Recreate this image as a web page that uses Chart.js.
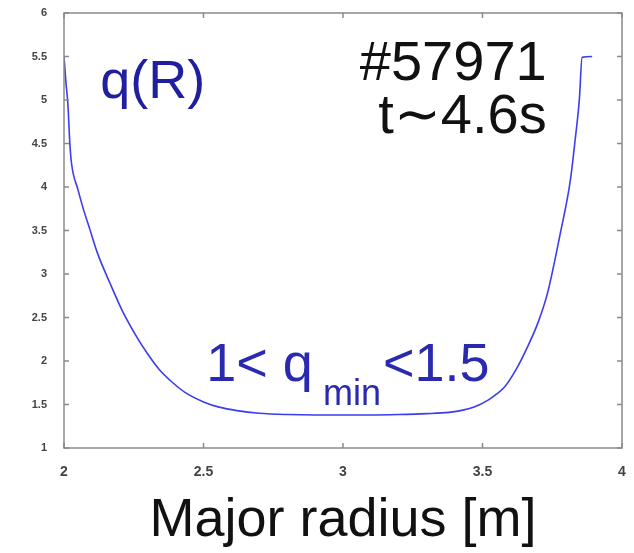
<!DOCTYPE html>
<html>
<head>
<meta charset="utf-8">
<script src="https://cdn.jsdelivr.net/npm/chart.js@4.4.1/dist/chart.umd.min.js"></script>
<style>
  html, body { margin: 0; padding: 0; background: #fff; }
  #wrap { width: 634px; height: 553px; }
</style>
</head>
<body>
<div id="wrap"><canvas id="c" width="634" height="553"></canvas></div>
<script>
// major radius R [m]
const radius = [2.0, 2.007, 2.014, 2.021, 2.027, 2.05, 2.07, 2.093, 2.12, 2.164, 2.21, 2.26, 2.3,
  2.342, 2.39, 2.438, 2.5, 2.556, 2.62, 2.7, 2.8, 2.9, 3.0, 3.1, 3.2, 3.3, 3.38, 3.43, 3.47, 3.52,
  3.55, 3.579, 3.62, 3.661, 3.7, 3.733, 3.779, 3.815, 3.832, 3.847, 3.857, 3.893];
// safety factor q(R)
const qValues = [5.5, 5.2, 4.95, 4.5, 4.27, 3.97, 3.74, 3.51, 3.24, 2.90, 2.57, 2.28, 2.08,
  1.90, 1.75, 1.63, 1.53, 1.47, 1.43, 1.40, 1.385, 1.38, 1.38, 1.38, 1.385, 1.395, 1.41, 1.435, 1.47, 1.55,
  1.62, 1.70, 1.90, 2.16, 2.45, 2.78, 3.47, 4.08, 4.54, 5.0, 5.49, 5.5];
const xTicks = [2, 2.5, 3, 3.5, 4];
const yTicks = [1, 1.5, 2, 2.5, 3, 3.5, 4, 4.5, 5, 5.5, 6];

const FONT = '"Liberation Sans", Arial, Helvetica, sans-serif';

// box, inward ticks and text annotations
const decor = {
  id: 'decor',
  afterDraw(chart) {
    const { ctx, chartArea: a, scales: { x, y } } = chart;
    ctx.save();
    ctx.strokeStyle = '#8a8a8a';
    ctx.lineWidth = 1.5;
    ctx.strokeRect(a.left, a.top, a.right - a.left, a.bottom - a.top);
    const len = 5;
    ctx.beginPath();
    xTicks.forEach(v => {
      const px = x.getPixelForValue(v);
      ctx.moveTo(px, a.bottom); ctx.lineTo(px, a.bottom - len);
      ctx.moveTo(px, a.top); ctx.lineTo(px, a.top + len);
    });
    yTicks.forEach(v => {
      const py = y.getPixelForValue(v);
      ctx.moveTo(a.left, py); ctx.lineTo(a.left + len, py);
      ctx.moveTo(a.right, py); ctx.lineTo(a.right - len, py);
    });
    ctx.stroke();

    // labels
    ctx.textBaseline = 'alphabetic';
    ctx.fillStyle = '#1f1fa0';
    ctx.textAlign = 'left';
    ctx.font = '54px ' + FONT;
    ctx.fillText('q(R)', x.getPixelForValue(2.13), y.getPixelForValue(5.02));

    ctx.fillStyle = '#111';
    ctx.textAlign = 'right';
    ctx.font = '56px ' + FONT;
    ctx.fillText('#57971', x.getPixelForValue(3.73), y.getPixelForValue(5.23));
    ctx.fillText('t\u223C4.6s', x.getPixelForValue(3.73), y.getPixelForValue(4.62));

    ctx.fillStyle = '#2a2ab0';
    ctx.textAlign = 'left';
    ctx.font = '54px ' + FONT;
    const bx = x.getPixelForValue(2.51), by = y.getPixelForValue(1.77);
    const main1 = '1< q';
    ctx.fillText(main1, bx, by);
    let w = ctx.measureText(main1).width + 10;
    ctx.font = '36px ' + FONT;
    ctx.fillText('min', bx + w, by + 24);
    w += ctx.measureText('min').width + 2;
    ctx.font = '54px ' + FONT;
    ctx.fillText('<1.5', bx + w, by);

    // axis title
    ctx.fillStyle = '#111';
    ctx.textAlign = 'center';
    ctx.font = '54px ' + FONT;
    ctx.fillText('Major radius [m]', (a.left + a.right) / 2, 536);
    ctx.restore();
  }
};

new Chart(document.getElementById('c'), {
  type: 'line',
  data: {
    labels: radius,
    datasets: [{
      data: radius.map((r, i) => ({ x: r, y: qValues[i] })),
      borderColor: '#3c3cf0',
      borderWidth: 1.6,
      pointRadius: 0,
      cubicInterpolationMode: 'monotone',
      fill: false,
    }],
  },
  options: {
    responsive: false,
    animation: false,
    layout: { padding: { left: 0, top: 13, right: 12, bottom: 0 } },
    plugins: { legend: { display: false }, tooltip: { enabled: false } },
    scales: {
      x: {
        type: 'linear',
        min: 2, max: 4,
        afterBuildTicks: s => { s.ticks = xTicks.map(v => ({ value: v })); },
        afterFit: s => { s.height = 105; s.paddingLeft = 0; s.paddingRight = 0; },
        grid: { display: false },
        border: { display: false },
        ticks: { color: '#444', padding: 8, maxRotation: 0, callback: v => String(v),
          font: { family: FONT, size: 14, weight: 'bold' } },
      },
      y: {
        min: 1, max: 6,
        afterBuildTicks: s => { s.ticks = yTicks.map(v => ({ value: v })); },
        afterFit: s => { s.width = 64; s.paddingTop = 0; s.paddingBottom = 0; },
        grid: { display: false },
        border: { display: false },
        ticks: { color: '#444', padding: 9, callback: v => String(v),
          font: { family: FONT, size: 11, weight: 'bold' } },
      },
    },
  },
  plugins: [decor],
});
</script>
</body>
</html>
